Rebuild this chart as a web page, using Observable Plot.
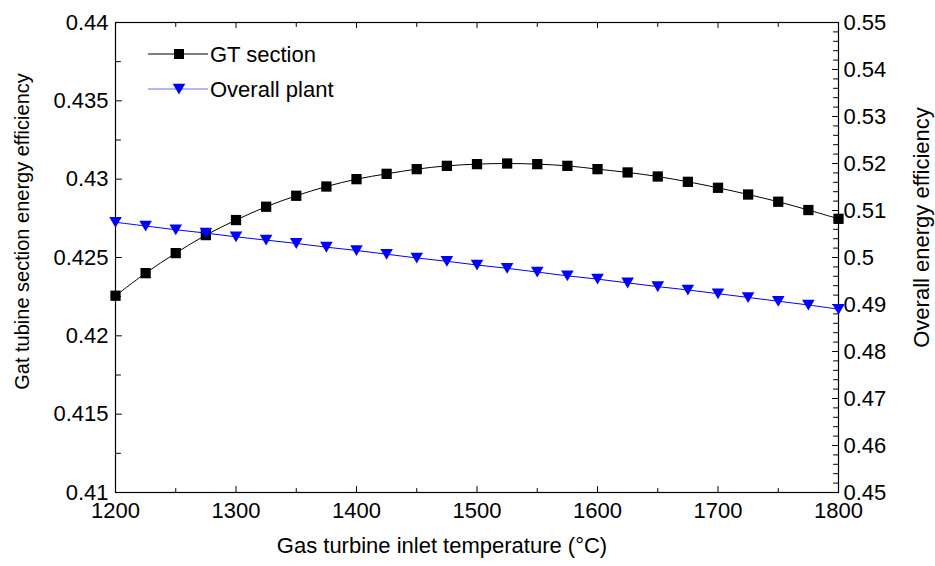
<!DOCTYPE html>
<html>
<head>
<meta charset="utf-8">
<script src="https://cdn.jsdelivr.net/npm/d3@7"></script>
<script src="https://cdn.jsdelivr.net/npm/@observablehq/plot@0.6"></script>
<style>
  body { margin: 0; background: #fff; }
  #wrap { position: relative; width: 935px; height: 566px; font-family: "Liberation Sans", Arial, sans-serif; }
  #legend { position: absolute; left: 0; top: 0; pointer-events: none; }
</style>
</head>
<body>
<div id="wrap"></div>
<script>
// ---- data ----
const temperature = [1200, 1225, 1250, 1275, 1300, 1325, 1350, 1375, 1400, 1425, 1450, 1475, 1500,
                     1525, 1550, 1575, 1600, 1625, 1650, 1675, 1700, 1725, 1750, 1775, 1800];
const gtEfficiency = [0.42256, 0.42400, 0.42528, 0.42643, 0.42739, 0.42824, 0.42894, 0.42953, 0.43000,
                      0.43034, 0.43064, 0.43085, 0.43096, 0.43100, 0.43096, 0.43085, 0.43064, 0.43043,
                      0.43017, 0.42983, 0.42945, 0.42902, 0.42856, 0.42803, 0.42747];
const overallEfficiency = [0.5075, 0.5067, 0.5059, 0.5052, 0.5044, 0.5037, 0.5030, 0.5022, 0.5015,
                           0.5007, 0.4999, 0.4992, 0.4984, 0.4977, 0.4969, 0.4961, 0.4954, 0.4946,
                           0.4938, 0.4931, 0.4923, 0.4915, 0.4907, 0.4899, 0.4890];
const seriesNames = ["GT section", "Overall plant"];

// ---- ticks & labels ----
const xTicks = [1200, 1300, 1400, 1500, 1600, 1700, 1800];
const xMinorTicks = [1250, 1350, 1450, 1550, 1650, 1750];
const leftTicks = [0.41, 0.415, 0.42, 0.425, 0.43, 0.435, 0.44];
const leftTickLabels = ["0.41", "0.415", "0.42", "0.425", "0.43", "0.435", "0.44"];
const leftMinorTicks = [0.4125, 0.4175, 0.4225, 0.4275, 0.4325, 0.4375];
const rightTicks = [0.45, 0.46, 0.47, 0.48, 0.49, 0.50, 0.51, 0.52, 0.53, 0.54, 0.55];
const rightTickLabels = ["0.45", "0.46", "0.47", "0.48", "0.49", "0.5", "0.51", "0.52", "0.53", "0.54", "0.55"];
const rightMinorTicks = d3.range(0, 50).map(i => +(0.45 + i * 0.002).toFixed(3)).filter((v, i) => i % 5 !== 0);
const xTitle = ["Gas turbine inlet temperature (°C)"];
const leftTitle = ["Gat tubine section energy efficiency"];
const rightTitle = ["Overall energy efficiency"];

// right axis [0.45, 0.55] mapped onto left axis [0.41, 0.44]
const toLeft = v => 0.41 + (v - 0.45) * 0.3;

const gtRows = temperature.map((t, i) => ({t, v: gtEfficiency[i]}));
const overallRows = temperature.map((t, i) => ({t, v: toLeft(overallEfficiency[i])}));

const tickShape = {draw(ctx, l) { ctx.moveTo(0, 0); ctx.lineTo(0, -l); }};
const triDown = {draw(ctx) { ctx.moveTo(-6.3, -5.3); ctx.lineTo(6.3, -5.3); ctx.lineTo(0, 5.5); ctx.closePath(); }};

const FONT = "Liberation Sans, Arial, sans-serif";
const tickOpts = (extra) => ({shape: tickShape, anchor: "start", stroke: "black", strokeWidth: 1, ...extra});

const chart = Plot.plot({
  width: 935,
  height: 566,
  marginLeft: 115,
  marginRight: 97,
  marginTop: 22,
  marginBottom: 74,
  x: {domain: [1200, 1800], axis: null},
  y: {domain: [0.41, 0.44], axis: null},
  style: {fontFamily: FONT, fontSize: "22px", background: "white", color: "black"},
  marks: [
    Plot.frame({stroke: "black", strokeWidth: 1.2}),
    // ticks (inward)
    Plot.vector(xTicks, tickOpts({x: d => d, frameAnchor: "bottom", rotate: 0, length: 6})),
    Plot.vector(xMinorTicks, tickOpts({x: d => d, frameAnchor: "bottom", rotate: 0, length: 4})),
    Plot.vector(xTicks, tickOpts({x: d => d, frameAnchor: "top", rotate: 180, length: 5})),
    Plot.vector(xMinorTicks, tickOpts({x: d => d, frameAnchor: "top", rotate: 180, length: 4})),
    Plot.vector(leftTicks, tickOpts({y: d => d, frameAnchor: "left", rotate: 90, length: 6})),
    Plot.vector(leftMinorTicks, tickOpts({y: d => d, frameAnchor: "left", rotate: 90, length: 5})),
    Plot.vector(rightTicks, tickOpts({y: d => toLeft(d), frameAnchor: "right", rotate: -90, length: 6})),
    Plot.vector(rightMinorTicks, tickOpts({y: d => toLeft(d), frameAnchor: "right", rotate: -90, length: 5})),
    // tick labels
    Plot.text(xTicks, {x: d => d, text: d => String(d), frameAnchor: "bottom", dy: 25, fontSize: 22, fill: "black"}),
    Plot.text(leftTicks, {y: d => d, text: (d, i) => leftTickLabels[i], frameAnchor: "left", textAnchor: "end", dx: -7, fontSize: 22, fill: "black"}),
    Plot.text(rightTicks, {y: d => toLeft(d), text: (d, i) => rightTickLabels[i], frameAnchor: "right", textAnchor: "start", dx: 5, fontSize: 22, fill: "black"}),
    // axis titles
    Plot.text(xTitle, {text: d => d, frameAnchor: "bottom", textAnchor: "middle", dx: -35, dy: 60, fontSize: 22, fill: "black"}),
    Plot.text(leftTitle, {text: d => d, frameAnchor: "left", textAnchor: "middle", rotate: -90, dx: -93, dy: -26, fontSize: 20, fill: "black"}),
    Plot.text(rightTitle, {text: d => d, frameAnchor: "right", textAnchor: "middle", rotate: -90, dx: 83, dy: -30, fontSize: 22, fill: "black"}),
    // series
    Plot.line(gtRows, {x: "t", y: "v", stroke: "black", strokeWidth: 1, curve: "catmull-rom"}),
    Plot.dot(gtRows, {x: "t", y: "v", symbol: "square", r: 5.8, fill: "black", stroke: "none"}),
    Plot.line(overallRows, {x: "t", y: "v", stroke: "#0000ff", strokeWidth: 1, curve: "catmull-rom"}),
    Plot.dot(overallRows, {x: "t", y: "v", symbol: triDown, fill: "#0000ff", stroke: "none"})
  ]
});

const wrap = document.getElementById("wrap");
wrap.appendChild(chart);

// ---- legend ----
const legendColors = ["black", "#0000ff"];
const legendLine = ["black", "#6a6aff"];
const lg = d3.select(wrap).append("svg").attr("id", "legend").attr("width", 935).attr("height", 566);
seriesNames.forEach((name, i) => {
  const y = 54 + i * 35;
  lg.append("line").attr("x1", 148).attr("x2", 208).attr("y1", y).attr("y2", y)
    .attr("stroke", legendLine[i]).attr("stroke-width", 1);
  if (i === 0) {
    lg.append("rect").attr("x", 174).attr("y", y - 5).attr("width", 10).attr("height", 10).attr("fill", legendColors[i]);
  } else {
    lg.append("path").attr("d", `M${179 - 6.3},${y - 5.3}L${179 + 6.3},${y - 5.3}L179,${y + 5.5}Z`).attr("fill", legendColors[i]);
  }
  lg.append("text").attr("x", 210).attr("y", y).attr("dy", "0.35em")
    .attr("font-family", FONT).attr("font-size", 22).attr("fill", "black").text(name);
});
</script>
</body>
</html>
